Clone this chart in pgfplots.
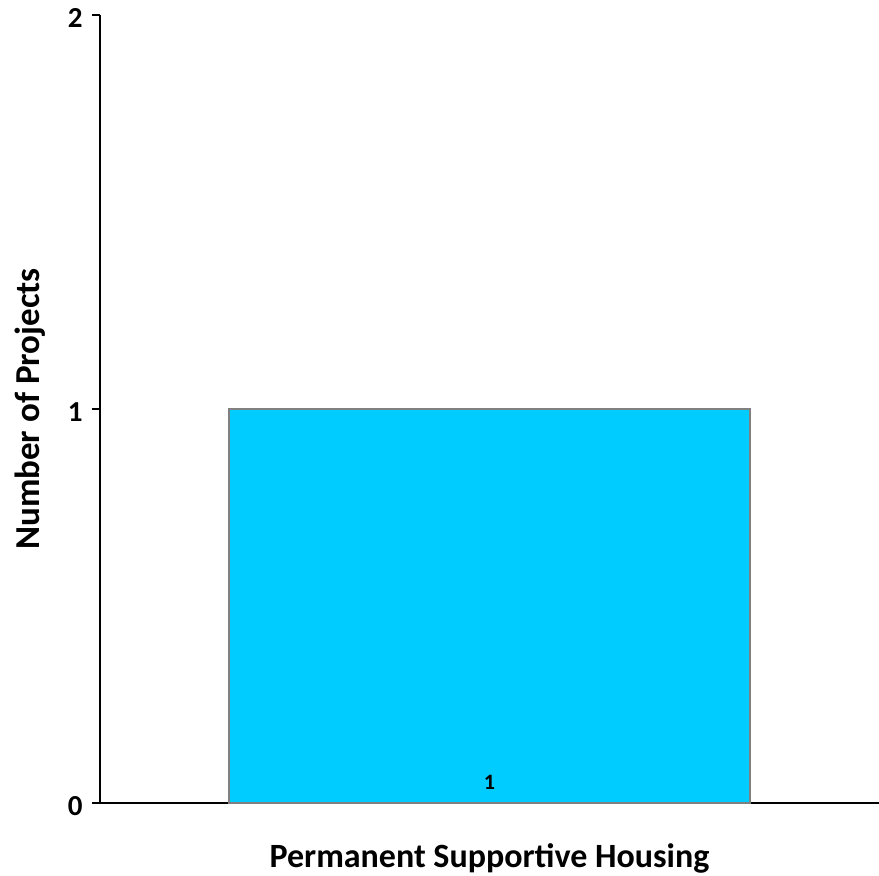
\documentclass[border=0pt]{standalone}
\usepackage{fontspec}
\setmainfont{Carlito}
\usepackage{pgfplots}
\pgfplotsset{compat=1.18}
\definecolor{barcyan}{HTML}{00CCFF}
\definecolor{bargray}{HTML}{808080}
\begin{document}
\begin{tikzpicture}
\path[use as bounding box] (-100pt,-73pt) rectangle (779pt,803pt);
\begin{axis}[
    at={(0,0)}, anchor=south west,
    scale only axis,
    width=779pt, height=788pt,
    xmin=-0.75, xmax=0.75,
    ymin=0, ymax=2,
    axis lines=left,
    axis line style={-, line width=1.5pt, black},
    xtick=\empty,
    ytick={0,1,2},
    yticklabels={0,1,2},
    tick align=outside,
    major tick length=8pt,
    tick style={line width=1.2pt, black},
    yticklabel style={font=\bfseries\fontsize{29}{32}\selectfont, xshift=-6pt, yshift=-3pt},
    xlabel={Permanent Supportive Housing},
    xlabel style={font=\bfseries\fontsize{34}{38}\selectfont, at={(axis description cs:0.5,0)}, anchor=center, yshift=-55pt},
    ylabel={Number of Projects},
    ylabel style={font=\bfseries\fontsize{35}{38}\selectfont, at={(axis description cs:0,0.5)}, anchor=center, yshift=70pt},
    clip=false,
]
\addplot[ybar, bar width=521pt, fill=barcyan, draw=bargray, line width=1.2pt] coordinates {(0,1)};
\addplot[draw=none, mark=none, point meta=explicit symbolic, nodes near coords,
    nodes near coords style={anchor=center, font=\bfseries\fontsize{22}{25}\selectfont}]
    coordinates {(0,0.053) [1]};
\end{axis}
\end{tikzpicture}
\end{document}
